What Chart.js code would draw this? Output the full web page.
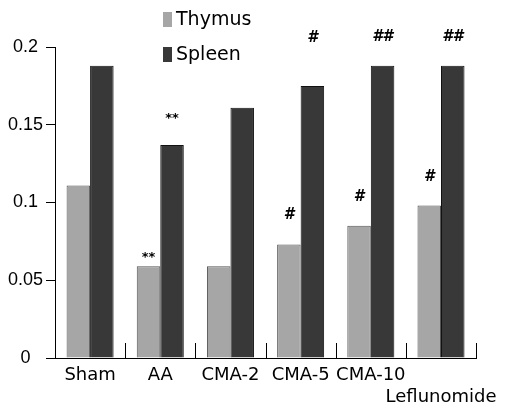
<!DOCTYPE html>
<html>
<head>
<meta charset="utf-8">
<script src="https://cdn.jsdelivr.net/npm/chart.js@4.4.1/dist/chart.umd.min.js"></script>
<style>
html, body { margin: 0; padding: 0; background: #fff; }
</style>
</head>
<body>
<canvas id="chart" width="505" height="411"></canvas>
<script>
const groups = [['Sham'], ['AA'], ['CMA-2'], ['CMA-5'], ['CMA-10'], ['', 'Leflunomide']];
const thymus = [0.111, 0.059, 0.059, 0.073, 0.085, 0.098];
const spleen = [0.188, 0.137, 0.161, 0.175, 0.188, 0.188];
const thymusMarks = ['', '**', '', '#', '#', '#'];
const spleenMarks = ['', '**', '', '#', '##', '##'];
const yTickLabels = ['0', '0.05', '0.1', '0.15', '0.2'];

const labelFont = 'DejaVu Sans';

// legend drawn as a stacked list inside the plot, like the figure
const stackedLegend = {
    id: 'stackedLegend',
    afterDraw(chart) {
        const ctx = chart.ctx;
        ctx.save();
        ctx.font = '19px "' + labelFont + '"';
        ctx.textBaseline = 'middle';
        ctx.textAlign = 'left';
        chart.data.datasets.forEach((ds, i) => {
            const y = 20 + i * 35;
            ctx.fillStyle = ds.backgroundColor;
            ctx.fillRect(163, y - 8, 9, 15);
            ctx.fillStyle = '#000';
            ctx.fillText(ds.label, 176, y);
        });
        ctx.restore();
    }
};

// significance marks above the bars + little separator ticks on the x axis
const marks = {
    id: 'marks',
    afterDatasetsDraw(chart) {
        const ctx = chart.ctx;
        const x = chart.scales.x;
        const y = chart.scales.y;
        ctx.save();
        ctx.strokeStyle = '#000';
        ctx.lineWidth = 1;
        for (let i = 1; i <= groups.length; i++) {
            const px = Math.round(x.left + (x.right - x.left) * i / groups.length) + 0.5;
            ctx.beginPath();
            ctx.moveTo(px, y.bottom);
            ctx.lineTo(px, y.bottom - 15);
            ctx.stroke();
        }
        ctx.fillStyle = '#000';
        ctx.textAlign = 'center';
        ctx.textBaseline = 'middle';
        const sets = [thymusMarks, spleenMarks];
        sets.forEach((list, d) => {
            const meta = chart.getDatasetMeta(d);
            list.forEach((m, j) => {
                if (!m) return;
                const bar = meta.data[j];
                let py;
                if (m === '**') {
                    ctx.font = 'bold 13px "' + labelFont + '"';
                    py = bar.y - (d === 0 ? 9 : 26);
                } else {
                    ctx.font = 'italic bold 15px "' + labelFont + '"';
                    py = bar.y - 29;
                    if (d === 1) py = Math.min(py, y.getPixelForValue(0.206));
                }
                ctx.fillText(m, bar.x, py);
            });
        });
        ctx.restore();
    }
};

new Chart(document.getElementById('chart'), {
    type: 'bar',
    data: {
        labels: groups,
        datasets: [{
            label: 'Thymus',
            data: thymus,
            backgroundColor: '#a6a6a6',
            borderColor: '#555',
            borderWidth: 1,
            barPercentage: 1,
            categoryPercentage: 0.67
        }, {
            label: 'Spleen',
            data: spleen,
            backgroundColor: '#383838',
            borderColor: '#111',
            borderWidth: 1,
            barPercentage: 1,
            categoryPercentage: 0.67
        }]
    },
    options: {
        responsive: false,
        animation: false,
        layout: { padding: { top: 47, right: 18, left: 0, bottom: 0 } },
        plugins: {
            legend: { display: false },
            tooltip: { enabled: false }
        },
        scales: {
            x: {
                offset: true,
                grid: { display: false, drawTicks: false },
                border: { display: true, color: '#000', width: 1 },
                ticks: {
                    color: '#000',
                    font: { family: labelFont, size: 18 },
                    padding: 7,
                    maxRotation: 0,
                    autoSkip: false
                },
                afterFit: s => { s.height = 53; }
            },
            y: {
                min: 0,
                max: 0.2,
                ticks: {
                    stepSize: 0.05,
                    callback: (v, i) => yTickLabels[i],
                    crossAlign: 'center',
                    padding: 3,
                    color: '#000',
                    font: { family: 'Liberation Sans', size: 18 }
                },
                grid: { drawOnChartArea: false, tickLength: 9, color: '#000' },
                border: { color: '#000', width: 1 },
                afterFit: s => { s.width = 55; }
            }
        }
    },
    plugins: [stackedLegend, marks]
});
</script>
</body>
</html>
